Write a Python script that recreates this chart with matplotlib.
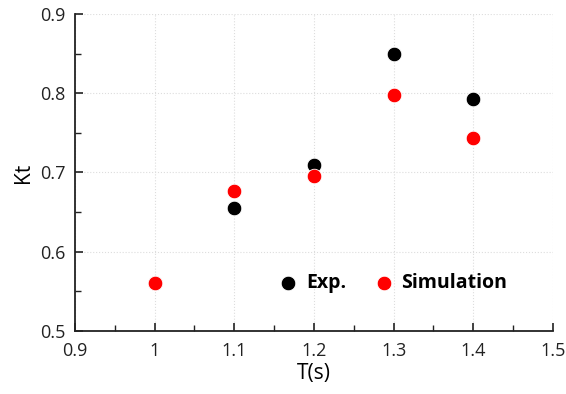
import matplotlib
matplotlib.use("Agg")
import matplotlib.pyplot as plt
from matplotlib.ticker import MultipleLocator

T = [1.0, 1.1, 1.2, 1.3, 1.4]
kt_exp = [0.56, 0.655, 0.71, 0.85, 0.793]
kt_sim = [0.56, 0.677, 0.695, 0.798, 0.743]

plt.rcParams['font.family'] = ['Open Sans', 'DejaVu Sans']

fig = plt.figure(figsize=(5.66, 3.94), dpi=100)
ax = fig.add_axes([0.1325, 0.16, 0.8445, 0.8045])

ax.scatter(T, kt_exp, s=110, color='black', edgecolors='white', linewidths=0.6, zorder=3, label='Exp.')
ax.scatter(T, kt_sim, s=110, color='#ff0000', edgecolors='white', linewidths=0.6, zorder=4, label='Simulation')

ax.set_xlim(0.9, 1.5)
ax.set_ylim(0.5, 0.9)
ax.xaxis.set_minor_locator(MultipleLocator(0.05))
ax.yaxis.set_minor_locator(MultipleLocator(0.05))
ax.set_xticks([0.9, 1.0, 1.1, 1.2, 1.3, 1.4, 1.5])
ax.set_xticklabels(['0.9', '1', '1.1', '1.2', '1.3', '1.4', '1.5'])
ax.set_yticks([0.5, 0.6, 0.7, 0.8, 0.9])
ax.set_yticklabels(['0.5', '0.6', '0.7', '0.8', '0.9'])

ax.grid(True, which='major', color='#dddddd', linestyle=':', linewidth=0.8)
ax.set_axisbelow(True)
for s in ['top', 'right']:
    ax.spines[s].set_visible(False)
for s in ['left', 'bottom']:
    ax.spines[s].set_linewidth(1.3)
    ax.spines[s].set_color('#222222')

ax.tick_params(which='major', direction='in', length=6, width=1.2, labelsize=13, colors='#222222')
ax.tick_params(axis='x', which='major', pad=8)
ax.tick_params(axis='y', which='major', pad=7)
ax.tick_params(which='minor', direction='in', length=4, width=1.0, colors='#222222')

ax.set_xlabel('T(s)', fontsize=15, labelpad=2)
ax.set_ylabel('Kt', fontsize=15, labelpad=4)

leg = ax.legend(loc='center', bbox_to_anchor=(0.665, 0.151), ncol=2, frameon=False,
                prop={'weight': 'bold', 'size': 14}, handlelength=1.0, handletextpad=0.4,
                columnspacing=1.45, markerscale=1.0)

fig.savefig('out.png', dpi=100)
